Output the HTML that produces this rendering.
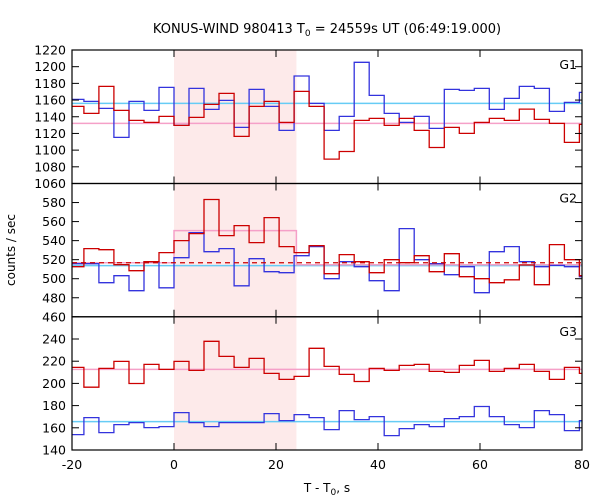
<!DOCTYPE html>
<html><head><meta charset="utf-8">
<style>
body{margin:0;background:#fff;}
svg{display:block;font-family:"DejaVu Sans","Liberation Sans",sans-serif;}
</style></head>
<body>
<svg id="chart" width="600" height="500" viewBox="0 0 600 500">
<text x="327" y="33" font-size="13" text-anchor="middle">KONUS-WIND 980413 T<tspan font-size="9" dy="3">0</tspan><tspan dy="-3"> = 24559s UT (06:49:19.000)</tspan></text>
<text transform="translate(15,250) rotate(-90)" font-size="12" text-anchor="middle">counts / sec</text>
<text x="327" y="492" font-size="12" text-anchor="middle">T - T<tspan font-size="9" dy="3">0</tspan><tspan dy="-3">, s</tspan></text>
<g id="plots"></g>
</svg>
<script>
const binWidth = 2.944;
const firstBinIndex = -7;
const xTicks = [-20, 0, 20, 40, 60, 80];
const intervalStart = 0;
const intervalEnd = 24;
const panelNames = ["G1", "G2", "G3"];
const g1Blue = [1160.8,1158.4,1150,1115.2,1158.4,1147.6,1175.2,1129.6,1174,1148.8,1159.6,1127.2,1172.8,1152.4,1123.6,1188.8,1156,1123.6,1140.4,1205.2,1165.6,1144,1133.2,1140.4,1126,1172.8,1171.6,1174,1148.8,1162,1176.4,1174,1146.4,1157.2,1169.2];
const g1Red = [1152.4,1144,1176.4,1147.6,1135.6,1133.2,1140.4,1129.6,1139.2,1154.8,1168,1116.4,1152.4,1158.4,1133.2,1170.4,1152.4,1089.2,1098.4,1135.6,1138,1129.6,1138,1123.6,1103.2,1127.2,1120,1133.2,1138,1135.6,1149.2,1136.8,1132,1109.2,1130.8];
const g2Blue = [515.8,515.8,495.8,503.2,487.4,517.9,490.5,522.1,548.4,528.4,531.6,492.6,521,507.4,506.3,524.2,533.7,500,517.9,512.6,497.9,487.4,552.6,520,515.8,504.2,512.6,485.3,528.4,533.7,517.9,512.6,514,512.6,502.1];
const g2Red = [512.6,531.6,530.5,514.7,508.4,517.9,527.4,540,547.4,583.2,545.3,555.8,537.9,564.2,533.7,527.4,534.7,505.3,525.3,517.9,506.3,520,516.8,524.2,507.4,526.3,502.1,500,495.8,498.9,514.4,493.7,535.8,520,503.2];
const g3Blue = [153.9,169.2,155.7,162.9,164.7,160.2,161.1,173.7,164.7,161.1,164.7,164.7,164.7,172.8,166.5,171.9,169.2,158.4,175.5,167.4,170.1,153,159.3,162.9,161.1,168.3,170.1,179.2,170.1,162.9,160.2,175.5,171.9,157.5,166.5];
const g3Red = [214.4,196.6,213.5,219.8,199.9,217.1,212.6,219.8,211.7,237.9,224.3,214.4,222.5,209,203.6,206.3,231.6,215.3,208.1,201.7,213.5,211.7,216.2,217.1,210.8,209.9,216.2,220.7,210.8,213.5,217.1,210.8,203.6,214.4,209];
const g1Ticks = [1060,1080,1100,1120,1140,1160,1180,1200,1220];
const g2Ticks = [460,480,500,520,540,560,580];
const g3Ticks = [140,160,180,200,220,240];
const g1Bg = [1156, 1132];
const g2Bg = [513.7, 514.7, 516.8];
const g2IntervalLevel = 550.5;
const g3Bg = [165.6, 212.6];

const NS = "http://www.w3.org/2000/svg";
const X0 = 72, X1 = 582, XMIN = -20, XMAX = 80;
function xs(t){ return X0 + (t - XMIN) * (X1 - X0) / (XMAX - XMIN); }
const panels = [
  {top:50, bottom:183.5, min:1060, max:1220, ticks:g1Ticks, blue:g1Blue, red:g1Red},
  {top:183.5, bottom:316.8, min:460, max:600, ticks:g2Ticks, blue:g2Blue, red:g2Red},
  {top:316.8, bottom:450, min:140, max:260, ticks:g3Ticks, blue:g3Blue, red:g3Red}
];
const root = document.getElementById("plots");
function mk(tag, attrs, parent){
  const e = document.createElementNS(NS, tag);
  for (const k in attrs) e.setAttribute(k, attrs[k]);
  (parent || root).appendChild(e);
  return e;
}
// shaded interval
const shade = mk("rect", {x:xs(intervalStart), y:50, width:xs(intervalEnd)-xs(intervalStart), height:400, fill:"#fdeaea"});



function stepPath(vals, ys){
  let d = "";
  for (let i = 0; i < vals.length; i++){
    const t0 = Math.max(XMIN, (firstBinIndex + i) * binWidth);
    const t1 = Math.min(XMAX, (firstBinIndex + i + 1) * binWidth);
    const y = ys(vals[i]).toFixed(1);
    d += (i === 0 ? "M" : "L") + xs(t0).toFixed(1) + "," + y + "L" + xs(t1).toFixed(1) + "," + y;
  }
  return d;
}

panels.forEach((p, pi) => {
  const ys = v => p.bottom - (v - p.min) * (p.bottom - p.top) / (p.max - p.min);
  const g = mk("g", {});
  
  
  // background lines
  let bgs;
  if (pi === 0) bgs = [[g1Bg[0], "#66ccf5", null],[g1Bg[1], "#f5a0c8", null]];
  else if (pi === 1) bgs = [[g2Bg[0], "#66ccf5", null]];
  else bgs = [[g3Bg[0], "#66ccf5", null],[g3Bg[1], "#f5a0c8", null]];
  bgs.forEach(b => {
    const l = mk("line", {x1:X0, x2:X1, y1:ys(b[0]), y2:ys(b[0]), stroke:b[1], "stroke-width":1.5}, g);
    
    
  });
  if (pi === 1){
    const d = "M"+X0+","+ys(g2Bg[2])+"L"+xs(intervalStart)+","+ys(g2Bg[2])+"L"+xs(intervalStart)+","+ys(g2IntervalLevel)+"L"+xs(intervalEnd)+","+ys(g2IntervalLevel)+"L"+xs(intervalEnd)+","+ys(g2Bg[1])+"L"+X1+","+ys(g2Bg[1]);
    const pk = mk("path", {d:d, fill:"none", stroke:"#f5a0c8", "stroke-width":1.5}, g);
    
    
  }
  const bl = mk("path", {d:stepPath(p.blue, ys), fill:"none", stroke:"#3333dd", "stroke-width":1.3}, g);
  
  
  const rd = mk("path", {d:stepPath(p.red, ys), fill:"none", stroke:"#cc0000", "stroke-width":1.3}, g);
  
  
  if (pi === 1){
    const dl = mk("line", {x1:X0, x2:X1, y1:ys(g2Bg[2]), y2:ys(g2Bg[2]), stroke:"#cc0000", "stroke-width":1.3, "stroke-dasharray":"5,4"}, g);
    
    
  }
  // frame
  const fr = mk("rect", {x:X0, y:p.top, width:X1-X0, height:p.bottom-p.top, fill:"none", stroke:"#000", "stroke-width":1.2}, g);
  
  
  // y ticks
  p.ticks.forEach(v => {
    const y = ys(v);
    mk("line", {x1:X0, x2:X0+7, y1:y, y2:y, stroke:"#000"}, g);
    mk("line", {x1:X1-7, x2:X1, y1:y, y2:y, stroke:"#000"}, g);
    const t = mk("text", {x:X0-6, y:y+4.5, "font-size":12.5, "text-anchor":"end"}, g);
    t.textContent = v;
    
    
  });
  // x ticks
  xTicks.forEach(v => {
    const x = xs(v);
    mk("line", {x1:x, x2:x, y1:p.top, y2:p.top+7, stroke:"#000"}, g);
    mk("line", {x1:x, x2:x, y1:p.bottom, y2:p.bottom-7, stroke:"#000"}, g);
    if (pi === 2){
      const t = mk("text", {x:x, y:p.bottom+19, "font-size":12.5, "text-anchor":"middle"}, g);
      t.textContent = v;
      
      
    }
  });
  const lab = mk("text", {x:577, y:p.top+19, "font-size":12.5, "text-anchor":"end"}, g);
  lab.textContent = panelNames[pi];
  
  
});
</script>
</body></html>
